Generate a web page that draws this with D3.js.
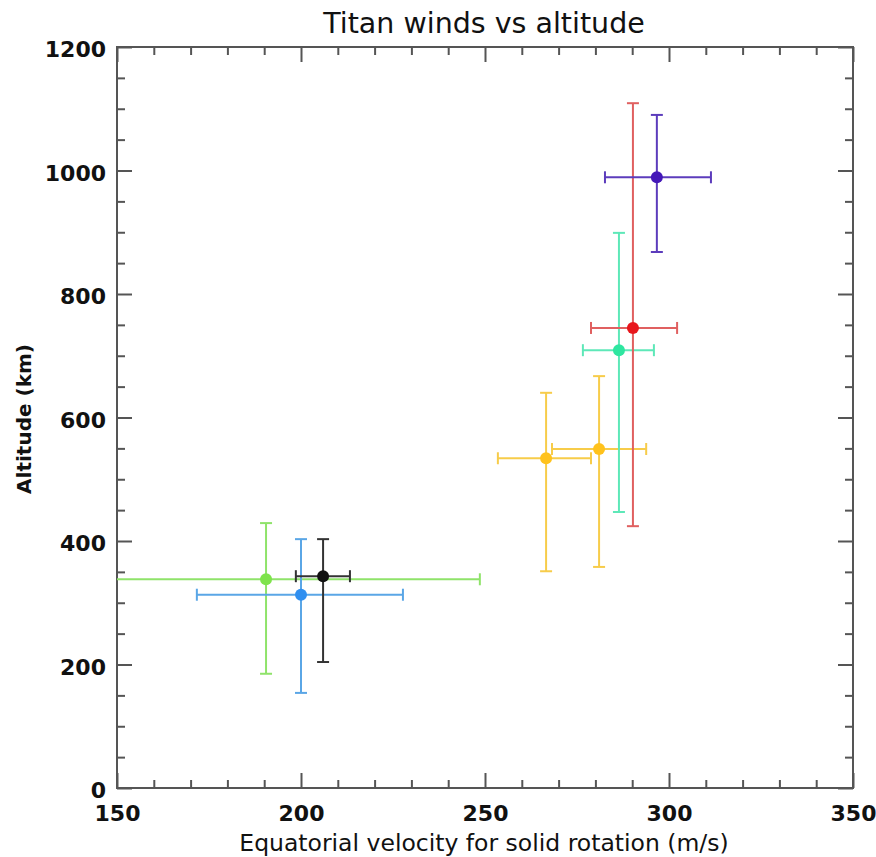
<!DOCTYPE html>
<html>
<head>
<meta charset="utf-8">
<script src="https://cdn.jsdelivr.net/npm/d3@7"></script>
<style>
  body { margin: 0; background: #fff; }
  text { font-family: "DejaVu Sans", sans-serif; }
</style>
</head>
<body>
<script>
// Titan winds vs altitude: velocity (m/s) vs altitude (km), with error bars

var names   = ['green', 'blue', 'black', 'yellowA', 'yellowB', 'teal', 'red', 'purple'];
var vel     = [190.5, 200.0, 206.0, 266.6, 281.0, 286.4, 290.2, 296.7];
var velLow  = [132.0, 171.7, 198.6, 253.5, 268.2, 276.6, 278.8, 282.6];
var velHigh = [248.6, 227.7, 213.3, 278.8, 293.8, 295.9, 302.2, 311.4];
var alt     = [338, 313, 343, 534, 549, 709, 745, 989];
var altLow  = [185, 154, 204, 351, 358, 447, 424, 868];
var altHigh = [429, 403, 403, 640, 667, 899, 1109, 1090];

var dotColors = ['#7ee34c', '#2f8ff0', '#111111', '#ffc21c', '#ffc21c', '#2ee6a0', '#e8161c', '#4418b8'];
var barColors = ['#8fe36a', '#5aa6e6', '#333333', '#f7cc4a', '#f7cc4a', '#5ee8b8', '#e06060', '#5c3cbc'];

var xMajor = [150, 200, 250, 300, 350];
var yMajor = [0, 200, 400, 600, 800, 1000, 1200];

var W = 876, H = 857;
var margin = {top: 47, right: 23, bottom: 69, left: 117};
var pw = W - margin.left - margin.right;
var ph = H - margin.top - margin.bottom;

var svg = d3.select('body').append('svg')
    .attr('width', W)
    .attr('height', H);

var x = d3.scaleLinear().domain([150, 350]).range([0, pw]);
var y = d3.scaleLinear().domain([0, 1200]).range([ph, 0]);

var g = svg.append('g').attr('transform', 'translate(' + margin.left + ',' + margin.top + ')');

g.append('clipPath').attr('id', 'plotclip')
  .append('rect').attr('width', pw).attr('height', ph);

// minor ticks, every 10 on x and every 50 on y
var xMinor = d3.range(150, 351, 10).filter(v => xMajor.indexOf(v) < 0);
var yMinor = d3.range(0, 1201, 50).filter(v => yMajor.indexOf(v) < 0);

function styleAxis(sel){
    sel.select('.domain').remove();
    sel.selectAll('line').attr('stroke', '#555').attr('stroke-width', 2);
}

// inward ticks on all four sides
g.append('g').attr('transform', 'translate(0,' + ph + ')')
    .call(d3.axisBottom(x).tickValues(xMinor).tickSize(-8).tickFormat(''))
    .call(styleAxis);
g.append('g')
    .call(d3.axisTop(x).tickValues(xMinor).tickSize(-8).tickFormat(''))
    .call(styleAxis);
g.append('g')
    .call(d3.axisLeft(y).tickValues(yMinor).tickSize(-8).tickFormat(''))
    .call(styleAxis);
g.append('g').attr('transform', 'translate(' + pw + ',0)')
    .call(d3.axisRight(y).tickValues(yMinor).tickSize(-8).tickFormat(''))
    .call(styleAxis);

var xb = g.append('g').attr('transform', 'translate(0,' + ph + ')')
    .call(d3.axisBottom(x).tickValues(xMajor).tickSize(-15).tickPadding(26).tickFormat(d3.format('d')))
    .call(styleAxis);
g.append('g')
    .call(d3.axisTop(x).tickValues(xMajor).tickSize(-15).tickFormat(''))
    .call(styleAxis);
var yl = g.append('g')
    .call(d3.axisLeft(y).tickValues(yMajor).tickSize(-15).tickPadding(11).tickFormat(d3.format('d')))
    .call(styleAxis);
g.append('g').attr('transform', 'translate(' + pw + ',0)')
    .call(d3.axisRight(y).tickValues(yMajor).tickSize(-15).tickFormat(''))
    .call(styleAxis);

xb.selectAll('text').attr('font-size', 22).attr('font-weight', 'bold').attr('fill', '#111')
    .attr('font-family', '"Liberation Sans", sans-serif').attr('dy', '0.3em');
yl.selectAll('text').attr('font-size', 22).attr('font-weight', 'bold').attr('fill', '#111')
    .attr('font-family', '"Liberation Sans", sans-serif').attr('dy', '0.45em');

// frame
g.append('rect')
    .attr('width', pw).attr('height', ph)
    .attr('fill', 'none').attr('stroke', '#555').attr('stroke-width', 2);

// data
var pts = names.map(function(n, i){
    return {name: n, v: vel[i], vLo: velLow[i], vHi: velHigh[i],
            a: alt[i], aLo: altLow[i], aHi: altHigh[i], dot: dotColors[i], bar: barColors[i]};
});

var cap = 6;
var marks = g.append('g').attr('clip-path', 'url(#plotclip)');

var grp = marks.selectAll('g.pt').data(pts).enter().append('g').attr('class', 'pt');

// horizontal error bars
grp.append('line')
    .attr('x1', d => x(d.vLo)).attr('x2', d => x(d.vHi))
    .attr('y1', d => y(d.a)).attr('y2', d => y(d.a))
    .attr('stroke', d => d.bar).attr('stroke-width', 2);
grp.append('line')
    .attr('x1', d => x(d.vLo)).attr('x2', d => x(d.vLo))
    .attr('y1', d => y(d.a) - cap).attr('y2', d => y(d.a) + cap)
    .attr('stroke', d => d.bar).attr('stroke-width', 2);
grp.append('line')
    .attr('x1', d => x(d.vHi)).attr('x2', d => x(d.vHi))
    .attr('y1', d => y(d.a) - cap).attr('y2', d => y(d.a) + cap)
    .attr('stroke', d => d.bar).attr('stroke-width', 2);

// vertical error bars
grp.append('line')
    .attr('x1', d => x(d.v)).attr('x2', d => x(d.v))
    .attr('y1', d => y(d.aLo)).attr('y2', d => y(d.aHi))
    .attr('stroke', d => d.bar).attr('stroke-width', 2);
grp.append('line')
    .attr('x1', d => x(d.v) - cap).attr('x2', d => x(d.v) + cap)
    .attr('y1', d => y(d.aLo)).attr('y2', d => y(d.aLo))
    .attr('stroke', d => d.bar).attr('stroke-width', 2);
grp.append('line')
    .attr('x1', d => x(d.v) - cap).attr('x2', d => x(d.v) + cap)
    .attr('y1', d => y(d.aHi)).attr('y2', d => y(d.aHi))
    .attr('stroke', d => d.bar).attr('stroke-width', 2);

grp.append('circle')
    .attr('cx', d => x(d.v)).attr('cy', d => y(d.a))
    .attr('r', 6)
    .attr('fill', d => d.dot);

// titles
svg.append('text')
    .attr('x', margin.left + pw / 2 - 1).attr('y', 33)
    .attr('text-anchor', 'middle')
    .attr('font-size', 28.5).attr('fill', '#111')
    .text('Titan winds vs altitude');

svg.append('text')
    .attr('x', 484).attr('y', 851)
    .attr('text-anchor', 'middle')
    .attr('font-size', 23.5).attr('fill', '#111')
    .text('Equatorial velocity for solid rotation (m/s)');

svg.append('text')
    .attr('transform', 'translate(31,419) rotate(-90)')
    .attr('text-anchor', 'middle')
    .attr('font-size', 20).attr('font-weight', 'bold').attr('fill', '#111')
    .text('Altitude (km)');
</script>
</body>
</html>
